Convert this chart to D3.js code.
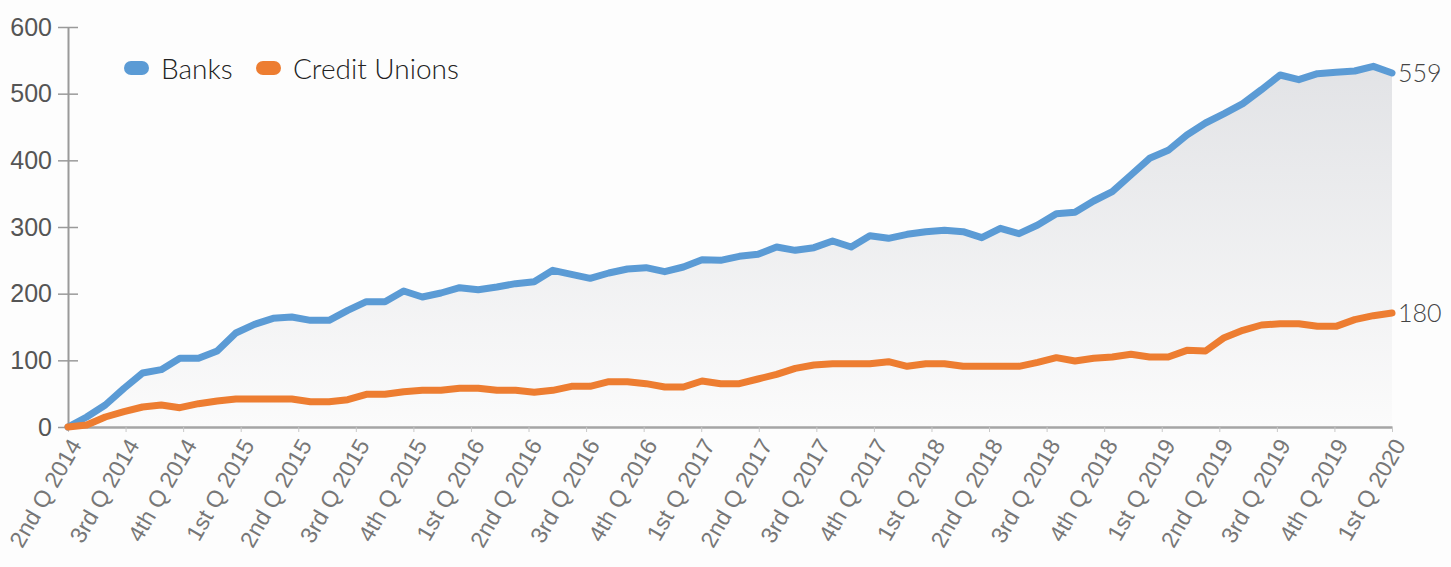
<!DOCTYPE html>
<html lang="en">
<head>
    <meta charset="UTF-8">
    <title>Banks vs Credit Unions</title>
    <script src="https://cdn.jsdelivr.net/npm/d3@7"></script>
</head>
<style>
    body {
        margin: 0;
        background-color: #fdfdfd;
    }
    svg {
        font-family: "Lato Light", "Lato", "DejaVu Sans", sans-serif;
    }
    .y-axis text {
        font-size: 25px;
        font-weight: 300;
        fill: #555;
    }
    .x-axis text {
        font-size: 23px;
        font-weight: 300;
        fill: #777;
    }
    .legend text {
        font-size: 28px;
        font-weight: 300;
        fill: #222;
    }
    .end-label {
        font-size: 25px;
        font-weight: 300;
        fill: #444;
    }
</style>
<body>
    <div id="graphDiv"></div>

    <script>
        // Quarter labels on the x axis
        const quarters = [
            "2nd Q 2014", "3rd Q 2014", "4th Q 2014",
            "1st Q 2015", "2nd Q 2015", "3rd Q 2015", "4th Q 2015",
            "1st Q 2016", "2nd Q 2016", "3rd Q 2016", "4th Q 2016",
            "1st Q 2017", "2nd Q 2017", "3rd Q 2017", "4th Q 2017",
            "1st Q 2018", "2nd Q 2018", "3rd Q 2018", "4th Q 2018",
            "1st Q 2019", "2nd Q 2019", "3rd Q 2019", "4th Q 2019",
            "1st Q 2020"
        ];

        // Monthly values
        const banks = [
            0, 15, 33, 58, 81, 86, 103, 103, 114, 141, 154, 163, 165, 160, 160, 175, 188, 188,
            204, 195, 201, 209, 206, 210, 215, 218, 235, 229, 223, 231, 237, 239, 233, 240, 251, 250,
            256, 259, 270, 265, 269, 279, 270, 287, 283, 289, 293, 295, 293, 284, 298, 290, 303, 320,
            322, 339, 353, 378, 403, 415, 438, 456, 470, 485, 506, 528, 521, 530, 532, 534, 541, 531
        ];

        const creditUnions = [
            0, 3, 15, 23, 30, 33, 29, 35, 39, 42, 42, 42, 42, 38, 38, 41, 49, 49,
            53, 55, 55, 58, 58, 55, 55, 52, 55, 61, 61, 68, 68, 65, 60, 60, 69, 65,
            65, 72, 79, 88, 93, 95, 95, 95, 98, 91, 95, 95, 91, 91, 91, 91, 97, 104,
            99, 103, 105, 109, 105, 105, 115, 114, 134, 145, 153, 155, 155, 151, 151, 161, 167, 171
        ];

        const yTicks = [0, 100, 200, 300, 400, 500, 600];
        const seriesNames = ["Banks", "Credit Unions"];
        const endLabels = ["559", "180"];

        const width = 1451;
        const height = 567;
        const margin = {top: 27, right: 59, bottom: 140, left: 68};

        const color = d3.scaleOrdinal()
            .domain(seriesNames)
            .range(["#5b9bd5", "#ed7d31"]);

        const x = d3.scaleLinear()
            .domain([0, banks.length - 1])
            .range([margin.left, width - margin.right]);

        const xq = d3.scalePoint()
            .domain(quarters)
            .range([margin.left, width - margin.right]);

        const y = d3.scaleLinear()
            .domain([0, 600])
            .range([height - margin.bottom, margin.top]);

        const svg = d3.select("#graphDiv").append("svg")
            .attr("width", width)
            .attr("height", height);

        // Gray gradient under the banks line
        const grad = svg.append("defs").append("linearGradient")
            .attr("id", "areaGrad")
            .attr("gradientUnits", "userSpaceOnUse")
            .attr("x1", 0).attr("x2", 0)
            .attr("y1", y(540)).attr("y2", y(0));
        grad.append("stop").attr("offset", "0%").attr("stop-color", "#e2e3e6");
        grad.append("stop").attr("offset", "100%").attr("stop-color", "#fbfbfb");

        const area = d3.area()
            .x((d, i) => x(i))
            .y0(y(0))
            .y1(d => y(d));

        svg.append("path")
            .datum(banks)
            .attr("fill", "url(#areaGrad)")
            .attr("d", area);

        // Y axis with ticks crossing the line
        const yAxis = svg.append("g")
            .attr("class", "y-axis")
            .attr("transform", `translate(${margin.left},0)`)
            .call(d3.axisLeft(y).tickValues(yTicks).tickSizeInner(10).tickSizeOuter(0).tickPadding(6));
        yAxis.select(".domain").attr("stroke", "#9a9a9a").attr("stroke-width", 2);
        yAxis.selectAll(".tick line").attr("x1", -10).attr("x2", 10)
            .attr("stroke", "#9a9a9a").attr("stroke-width", 1.5);

        // X axis with rotated quarter labels
        const xAxis = svg.append("g")
            .attr("class", "x-axis")
            .attr("transform", `translate(0,${y(0)})`)
            .call(d3.axisBottom(xq).tickSizeInner(5).tickSizeOuter(0));
        xAxis.select(".domain").attr("stroke", "#a5a5a5").attr("stroke-width", 2.5);
        xAxis.selectAll(".tick line").attr("stroke", "#c8c8c8");
        xAxis.selectAll(".tick text")
            .attr("x", 0).attr("y", 0).attr("dy", "0.35em")
            .attr("text-anchor", "end")
            .attr("transform", "translate(7,14) rotate(-60)");

        // Lines
        const line = d3.line()
            .x((d, i) => x(i))
            .y(d => y(d));

        [banks, creditUnions].forEach((values, k) => {
            svg.append("path")
                .datum(values)
                .attr("fill", "none")
                .attr("stroke", color(seriesNames[k]))
                .attr("stroke-width", 7)
                .attr("stroke-linejoin", "round")
                .attr("stroke-linecap", "round")
                .attr("d", line);

            svg.append("text")
                .attr("class", "end-label")
                .attr("x", x(values.length - 1) + 6)
                .attr("y", y(values[values.length - 1]))
                .attr("dy", "0.35em")
                .text(endLabels[k]);
        });

        // Legend
        const legend = svg.append("g")
            .attr("class", "legend")
            .attr("transform", "translate(124,61)");

        const legendX = [0, 132];
        seriesNames.forEach((name, i) => {
            const row = legend.append("g")
                .attr("transform", `translate(${legendX[i]},0)`);
            row.append("rect")
                .attr("width", 25)
                .attr("height", 14)
                .attr("rx", 7)
                .attr("fill", color(name));
            row.append("text")
                .attr("x", 37)
                .attr("y", 18)
                .text(name);
        });
    </script>
</body>
</html>
